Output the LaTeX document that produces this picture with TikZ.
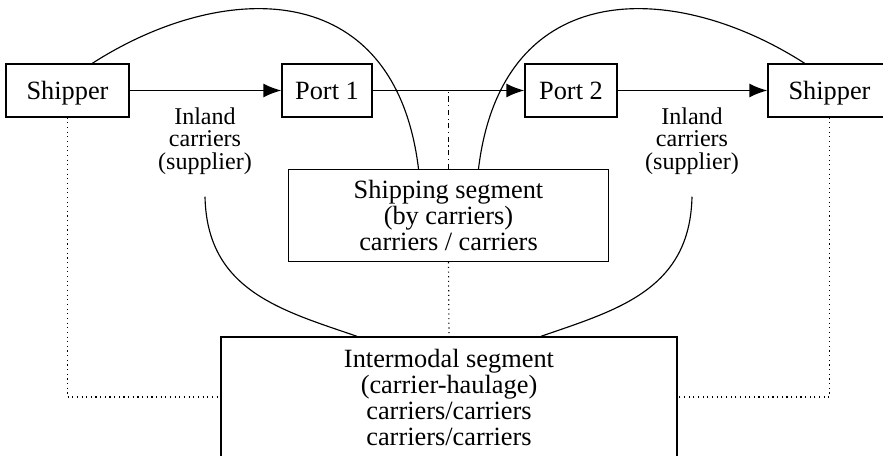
\documentclass[tikz,border=0pt]{standalone}
\usepackage{fontspec}
\setmainfont{Liberation Serif}
\usetikzlibrary{calc,arrows.meta}

\newcommand{\boxfont}{\fontsize{15}{14.8}\selectfont}
\newcommand{\lblfont}{\fontsize{13.7}{12.8}\selectfont}

\begin{document}
\begin{tikzpicture}[x=0.02cm,y=-0.02cm,
  box/.style={draw,line width=0.8pt,align=center,inner sep=0pt,font=\boxfont},
  small/.style={box,minimum height=1.06cm,text depth=0pt},
  lbl/.style={align=center,inner sep=0pt,font=\lblfont},
  flow/.style={line width=0.8pt,-{Latex[length=0.36cm,width=0.28cm]}},
  link/.style={line width=0.65pt}]
  \useasboundingbox (0,0) rectangle (883,456);

  \node[small,minimum width=2.46cm] (ship1) at (67.5,90.5) {Shipper};
  \node[small,minimum width=1.8cm] (port1) at (327,90.5) {Port 1};
  \node[small,minimum width=1.84cm] (port2) at (571,90.5) {Port 2};
  \node[small,minimum width=2.46cm] (ship2) at (829.5,90.5) {Shipper};

  \node[box,minimum width=6.4cm,minimum height=1.84cm] (shipseg) at (448.5,215.5)
    {Shipping segment\\(by carriers)\\carriers / carriers};
  \node[box,minimum width=9.12cm,minimum height=2.4cm] (inter) at (449,397)
    {Intermodal segment\\(carrier-haulage)\\carriers/carriers\\carriers/carriers};

  \node[lbl] (inland1) at (205,141) {Inland\\carriers\\(supplier)};
  \node[lbl] (inland2) at (692,141) {Inland\\carriers\\(supplier)};

  % main flow
  \draw[flow] (ship1) -- (port1);
  \draw[flow] (port1) -- (port2);
  \draw[flow] (port2) -- (ship2);

  % segment links
  \draw[link,dash dot] (shipseg.north) -- (shipseg.north |- port1.east);
  \draw[link,dotted] (shipseg.south) -- (inter.north);
  \draw[link,dotted] (ship1.south) |- (inter.west);
  \draw[link,dotted] (ship2.south) |- (inter.east);

  \draw[link] ($(ship1.north west)!0.7!(ship1.north east)$)
    .. controls (222,-20) and (395,-25) .. ([xshift=-0.6cm]shipseg.north);
  \draw[link] ([xshift=0.6cm]shipseg.north)
    .. controls (502,-25) and (675,-20) .. ($(ship2.north west)!0.3!(ship2.north east)$);

  \draw[link] ([yshift=-0.44cm]inland1.south)
    .. controls (207,290) and (280,310) .. ([xshift=-1.84cm]inter.north);
  \draw[link] ([yshift=-0.44cm]inland2.south)
    .. controls (690,290) and (617,310) .. ([xshift=1.84cm]inter.north);
\end{tikzpicture}
\end{document}
